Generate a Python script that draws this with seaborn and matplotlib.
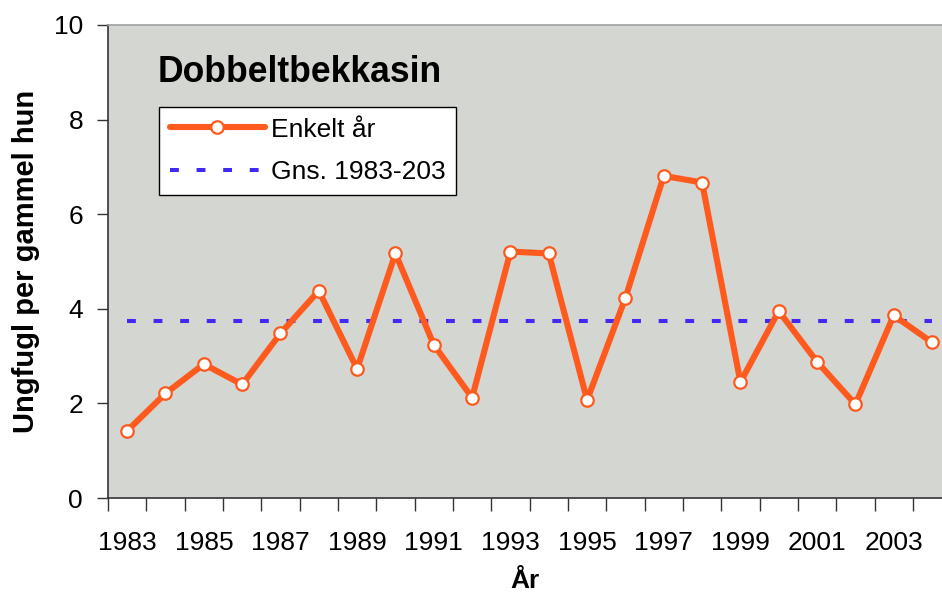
import matplotlib
matplotlib.use("Agg")
import matplotlib.pyplot as plt
import seaborn as sns
import pandas as pd
import numpy as np
from matplotlib.ticker import FixedLocator

years = list(range(1983, 2005))
young_per_hen = [1.42, 2.21, 2.83, 2.40, 3.48, 4.38, 2.73, 5.17, 3.24, 2.12, 5.21,
                 5.17, 2.07, 4.23, 6.81, 6.67, 2.45, 3.95, 2.88, 1.98, 3.86, 3.29]
mean_value = [3.74] * len(years)
tick_labels = [str(y) for y in years[::2]]

title = "Dobbeltbekkasin"
series_label = "Enkelt år"
mean_label = "Gns. 1983-203"

sns.set_theme(style="white")
plt.rcParams['font.family'] = ['Liberation Sans', 'DejaVu Sans']
plt.rcParams['text.color'] = 'black'
plt.rcParams['axes.labelcolor'] = 'black'
plt.rcParams['xtick.color'] = 'black'
plt.rcParams['ytick.color'] = 'black'

df = pd.DataFrame({"idx": np.arange(len(years)), "year": years,
                   "value": young_per_hen, "mean": mean_value})

fig = plt.figure(figsize=(9.42, 5.95), dpi=100)
ax = fig.add_axes([108/942, 1-498/595, 1-108/942, (498-25)/595])
ax.set_facecolor("#D4D6D1")

sns.lineplot(data=df, x="idx", y="value", ax=ax, color="#FF5A1E", linewidth=4.4,
             marker="o", markersize=9, markerfacecolor="white",
             markeredgecolor="#FF5A1E", markeredgewidth=1.6, label=series_label, zorder=3)
sns.lineplot(data=df, x="idx", y="mean", ax=ax, color="#4128F2", linewidth=2.9,
             dashes=False, label=mean_label, zorder=2)
ax.lines[1].set_dashes([2.2, 4.4])
ax.lines[1].set_dash_capstyle("butt")

ax.set_xlim(-0.5, 21.26)
ax.set_ylim(0, 10)
ax.set_yticks([0, 2, 4, 6, 8, 10])
ax.set_xticks(np.arange(0, len(years), 2))
ax.set_xticklabels(tick_labels)
ax.xaxis.set_minor_locator(FixedLocator(np.arange(-0.5, len(years), 1)))
ax.tick_params(axis="x", which="major", length=0, pad=24, labelsize=19, labelcolor="black")
ax.tick_params(axis="x", which="minor", length=9, width=1, color="#333333", direction="out", bottom=True)
ax.tick_params(axis="y", which="major", length=8, width=1, color="#333333", direction="out",
               left=True, pad=10, labelsize=19, labelcolor="black")

for s in ["left", "bottom"]:
    ax.spines[s].set_color("#333333")
    ax.spines[s].set_linewidth(1.2)
ax.spines["top"].set_color("#A0A0A0")
ax.spines["top"].set_linewidth(1.2)
ax.spines["right"].set_visible(False)

ax.set_xlabel("År", fontsize=19, fontweight="bold", labelpad=10, color="black")
ax.set_ylabel("Ungfugl per gammel hun", fontsize=21, fontweight="bold", labelpad=10, color="black")

ax.text(158/942, 1-72/595, title, transform=fig.transFigure, fontsize=25.6,
        fontweight="bold", va="center", ha="left", color="black")

leg = ax.legend(loc="upper left", bbox_to_anchor=(159/942, 1-107/595),
                bbox_transform=fig.transFigure, fontsize=19, frameon=True,
                fancybox=False, edgecolor="black", framealpha=1, handlelength=3.6,
                borderpad=0.4, labelspacing=0.7, handletextpad=0.25, borderaxespad=0)
leg.get_frame().set_linewidth(1.0)
for t in leg.get_texts():
    t.set_color("black")

fig.savefig("out.png", dpi=100)
